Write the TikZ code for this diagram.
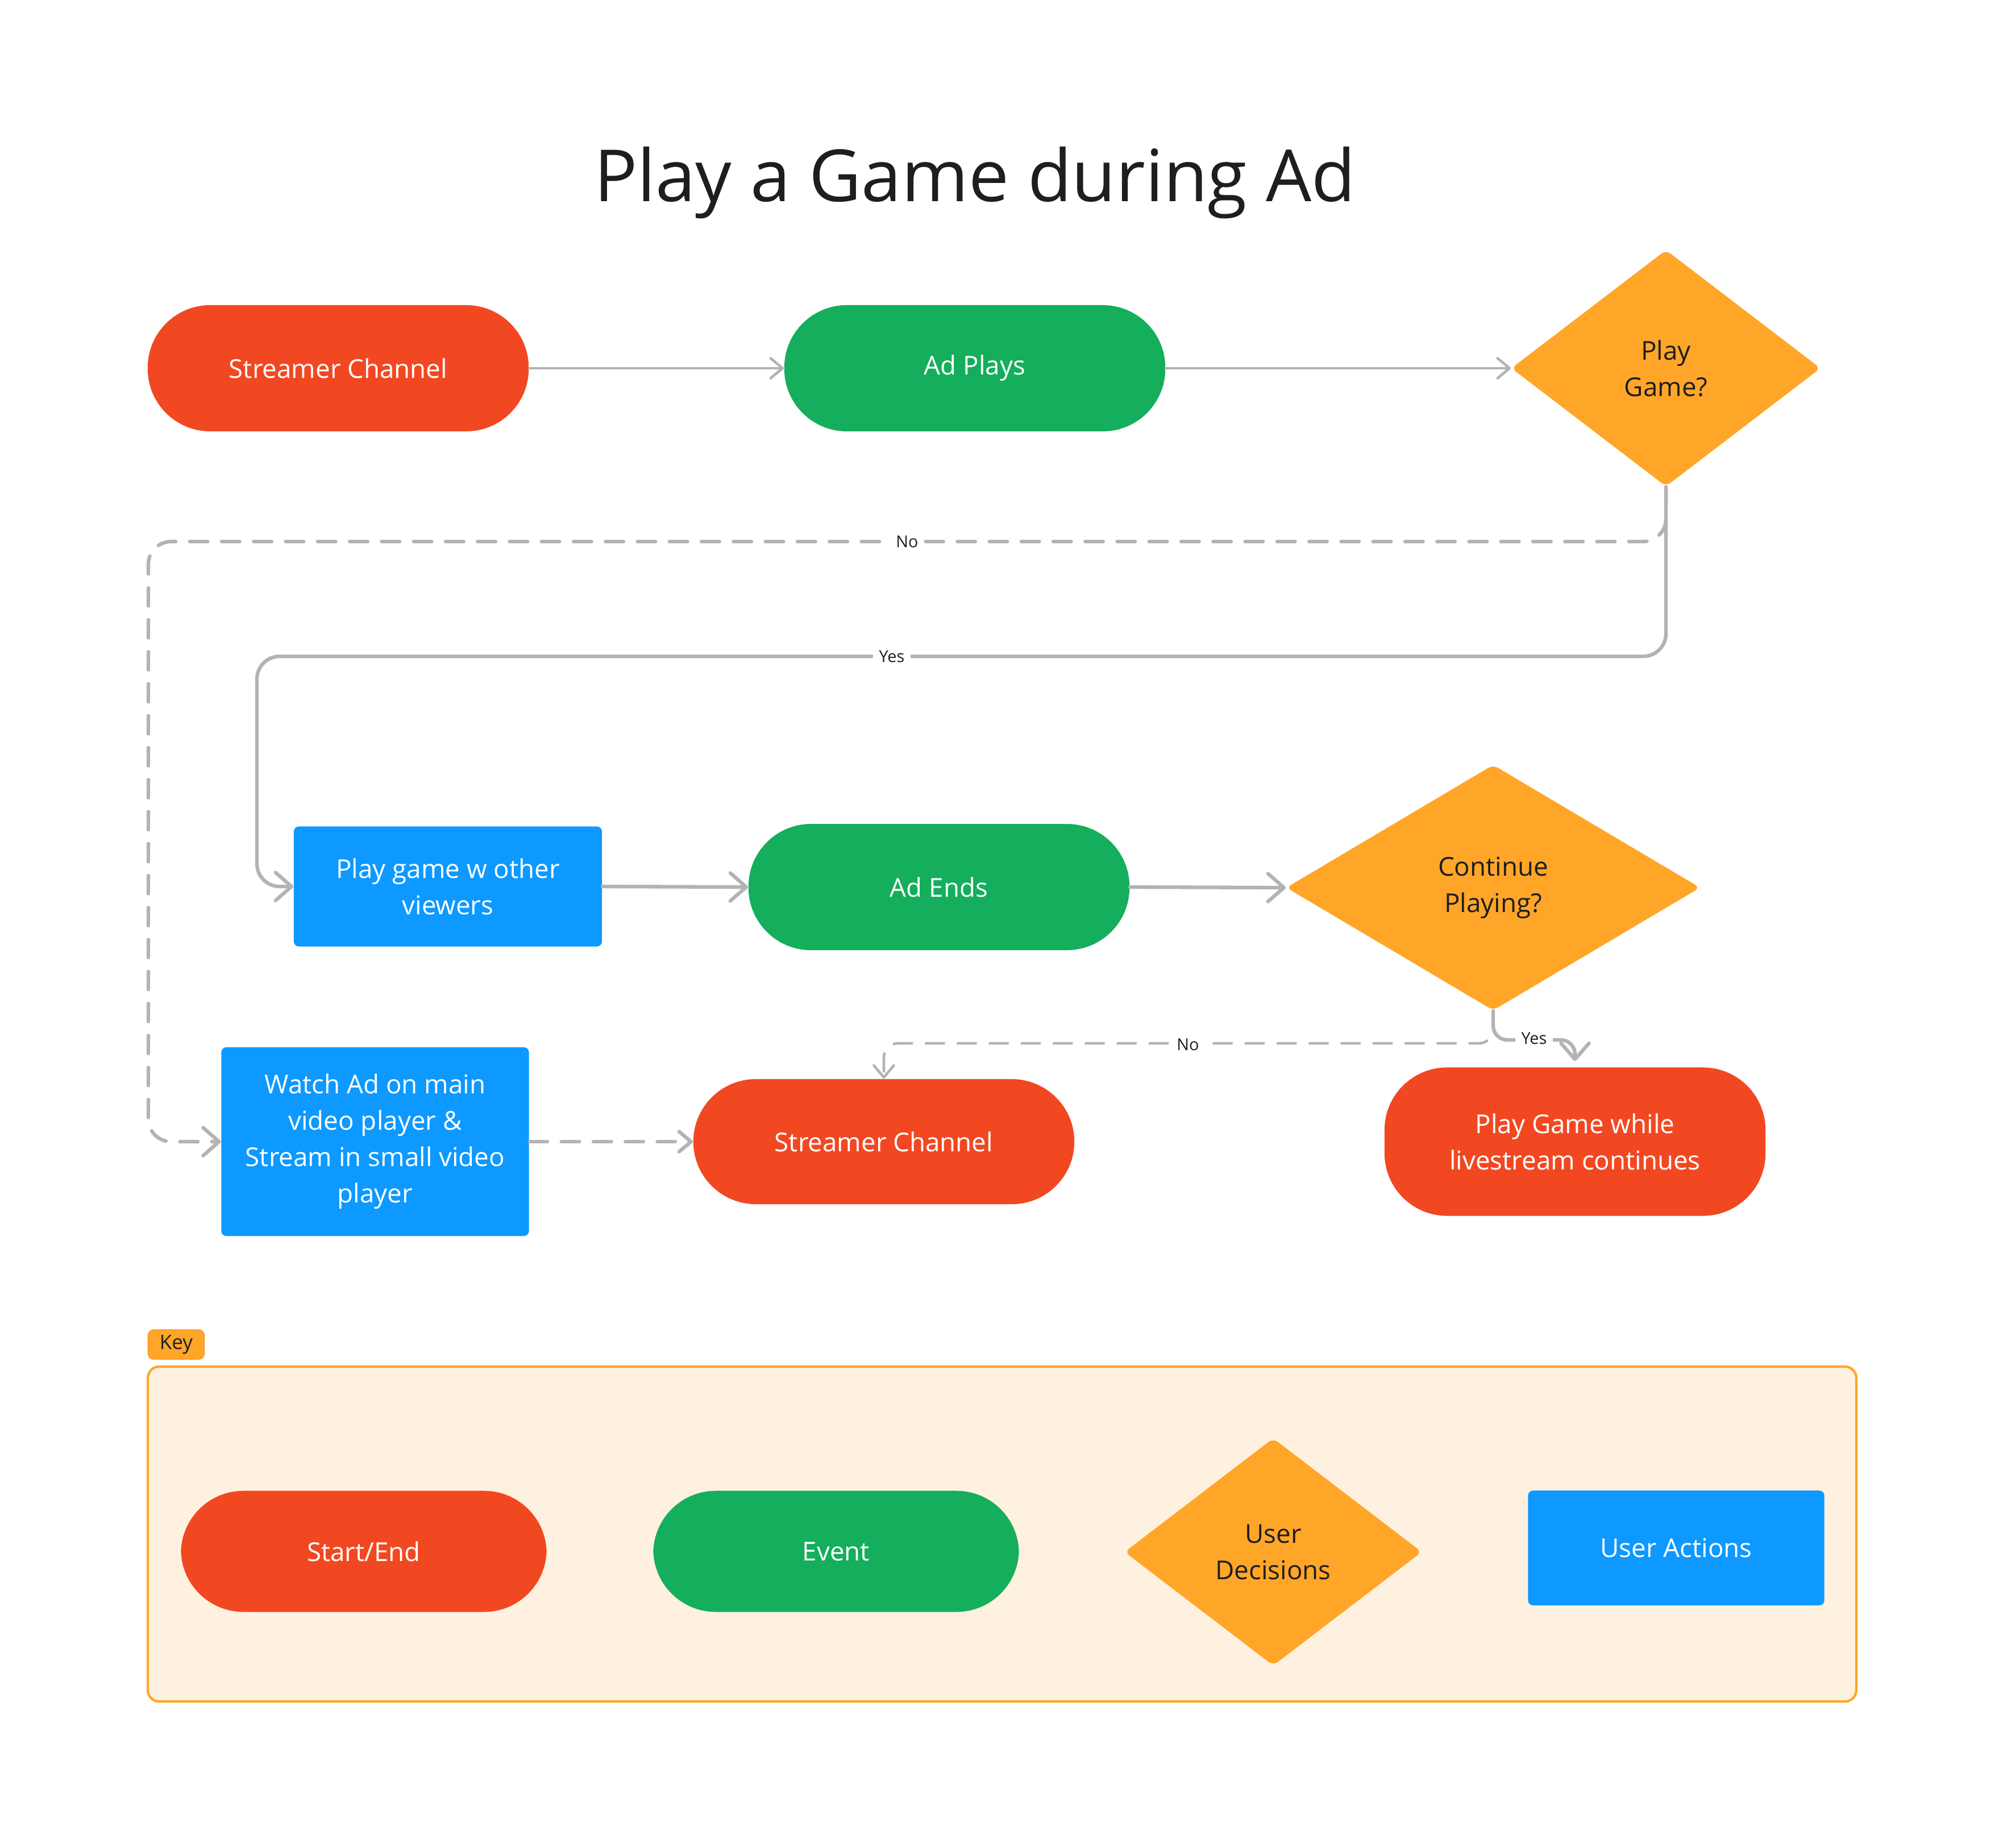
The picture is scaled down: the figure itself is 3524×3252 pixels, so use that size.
\documentclass[tikz,border=0pt]{standalone}
\usepackage{fontspec}
\setmainfont{Open Sans}
\usetikzlibrary{shapes.geometric,arrows.meta}
\definecolor{cred}{HTML}{F24822}
\definecolor{cgreen}{HTML}{14AE5C}
\definecolor{corange}{HTML}{FFA629}
\definecolor{cblue}{HTML}{0D99FF}
\definecolor{clight}{HTML}{FFF1DF}
\definecolor{cgray}{HTML}{B3B3B3}
\definecolor{cdark}{HTML}{1E1E1E}
\begin{document}
\begin{tikzpicture}[x=0.01cm,y=-0.01cm,
  base/.style={font=\fontsize{13}{18.2}\selectfont, align=center, inner sep=0pt},
  pill/.style={base, rectangle, rounded corners=1.1cm, text=white, minimum width=6.7cm, minimum height=2.22cm},
  startend/.style={pill, fill=cred},
  event/.style={pill, fill=cgreen},
  action/.style={base, rectangle, rounded corners=0.09cm, fill=cblue, text=white},
  decision/.style={base, diamond, rounded corners=0.1cm, fill=corange, text=cdark},
  conn/.style={draw=cgray, line width=1.3pt, line cap=round, line join=round},
  thick conn/.style={conn, line width=1.8pt},
  dashconn/.style={conn, line width=1.8pt, dash pattern=on 9pt off 7pt, rounded corners=0.4cm},
  tipA/.style={-{Straight Barb[length=6pt,width=10pt,round]}},
  tipB/.style={-{Straight Barb[length=8pt,width=14pt,round]}},
  lbl/.style={font=\fontsize{8.2}{10}\selectfont, text=cdark, fill=white, inner sep=3pt}
]
\fill[white] (0,0) rectangle (3524,3252);

% title
\node[font=\fontsize{36}{44}\selectfont, text=cdark, anchor=base] (title) at (1715,355) {Play a Game during Ad};

% top row
\node[startend] (sc1) at (595,648) {Streamer Channel};
\node[event] (adp) at (1715,648) {Ad Plays};
\node[decision, minimum width=5.44cm, minimum height=4.16cm] (pg) at (2931,648) {Play\\Game?};

% middle row
\node[action, minimum width=5.42cm, minimum height=2.11cm] (pgo) at (788,1560) {Play game w other\\viewers};
\node[event] (ade) at (1652,1561) {Ad Ends};
\node[decision, minimum width=7.28cm, minimum height=4.32cm] (cp) at (2627,1562) {Continue\\Playing?};

% bottom row
\node[action, minimum width=5.41cm, minimum height=3.32cm] (wa) at (660,2009) {Watch Ad on main\\video player \&\\Stream in small video\\player};
\node[startend, minimum height=2.2cm] (sc2) at (1555,2009) {Streamer Channel};
\node[startend, minimum height=2.61cm] (pgw) at (2771,2009) {Play Game while\\livestream continues};

% connectors top row
\draw[conn, tipA] (sc1.east) -- (adp.west);
\draw[conn, tipA] (adp.east) -- (pg.west);

% No branch from Play Game?
\draw[dashconn, tipB] (pg.south) |- (261,953) |- (wa.west);
\node[lbl] (no1) at (1596,953) {No};
% Yes branch
\draw[thick conn, rounded corners=0.4cm, tipB] (pg.south) |- (452,1155) |- (pgo.west);
\node[lbl] (yes1) at (1569,1155) {Yes};

% middle row connectors
\draw[thick conn, tipB] (pgo.east) -- (ade.west);
\draw[thick conn, tipB] (ade.east) -- (cp.west);

% Continue branches
\draw[dashconn, line width=1.3pt, rounded corners=0.25cm, tipA] (cp.south) |- (1555,1836) -- (sc2.north);
\node[lbl] (no2) at (2090,1838) {No};
\draw[thick conn, rounded corners=0.25cm, tipB, shorten >=3pt] (cp.south) |- (2771,1830) -- (pgw.north);
\node[lbl] (yes2) at (2699,1827) {Yes};

% watch -> streamer
\draw[dashconn, tipA] (wa.east) -- (sc2.west);

% key
\node[draw=corange, fill=clight, line width=1.2pt, rounded corners=0.2cm, minimum width=30.04cm, minimum height=5.89cm, inner sep=0pt] (keybox) at (1763,2699.5) {};
\node[fill=corange, draw=corange!80!red, line width=0.3pt, rounded corners=0.1cm, minimum width=0.99cm, minimum height=0.52cm, inner sep=0pt, font=\fontsize{10}{12}\selectfont, text=cdark] (keylbl) at (310,2366) {Key};

\node[startend, minimum width=6.43cm, minimum height=2.13cm] (k1) at (640,2730) {Start/End};
\node[event, minimum width=6.43cm, minimum height=2.13cm] (k2) at (1471,2730) {Event};
\node[decision, minimum width=5.23cm, minimum height=4.0cm] (k3) at (2240,2731) {User\\Decisions};
\node[action, minimum width=5.21cm, minimum height=2.02cm] (k4) at (2949,2724) {User Actions};
\end{tikzpicture}
\end{document}
